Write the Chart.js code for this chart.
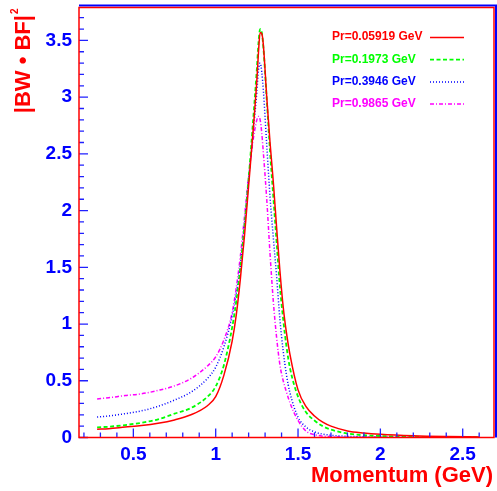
<!DOCTYPE html>
<html>
<head>
<meta charset="utf-8">
<script src="https://cdn.jsdelivr.net/npm/chart.js@4/dist/chart.umd.min.js"></script>
<style>
  html, body { margin: 0; padding: 0; background: #fff; }
</style>
</head>
<body>
<canvas id="bw" width="497" height="491"></canvas>
<script>
// momentum grid (GeV), shared by all four curves
const momentum = [0.28, 0.35, 0.45, 0.55, 0.65, 0.75, 0.85, 0.95, 1.0, 1.05, 1.1, 1.125, 1.15, 1.175, 1.2, 1.225, 1.25, 1.26, 1.27, 1.28,
                  1.29, 1.31, 1.33, 1.35, 1.37, 1.39, 1.41, 1.43, 1.45, 1.5, 1.55, 1.6, 1.65, 1.7, 1.8, 1.9, 2.0, 2.2, 2.4, 2.6];

// |BW * BF|^2 for each Pr value
const pr05919 = [0.073, 0.078, 0.092, 0.105, 0.125, 0.155, 0.20, 0.28, 0.36, 0.55, 0.85, 1.08, 1.40, 1.78, 2.22, 2.66, 3.15, 3.40, 3.57, 3.56,
                 3.45, 3.0, 2.6, 2.25, 1.85, 1.47, 1.15, 0.92, 0.74, 0.42, 0.27, 0.19, 0.135, 0.10, 0.058, 0.040, 0.029, 0.016, 0.009, 0.005];
const pr1973 = [0.09, 0.095, 0.11, 0.13, 0.16, 0.21, 0.26, 0.36, 0.45, 0.64, 0.97, 1.2, 1.5, 1.87, 2.28, 2.75, 3.25, 3.48, 3.6, 3.57,
                3.43, 2.98, 2.52, 2.12, 1.72, 1.33, 1.04, 0.80, 0.62, 0.36, 0.22, 0.15, 0.10, 0.07, 0.035, 0.02, 0.013, 0.006, 0.003, 0.002];
const pr3946 = [0.18, 0.19, 0.21, 0.235, 0.275, 0.33, 0.40, 0.52, 0.62, 0.80, 1.07, 1.27, 1.52, 1.88, 2.28, 2.65, 3.05, 3.24, 3.30, 3.22,
                3.05, 2.58, 2.12, 1.76, 1.42, 1.04, 0.76, 0.55, 0.40, 0.18, 0.09, 0.05, 0.03, 0.02, 0.01, 0.006, 0.004, 0.002, 0.001, 0.001];
const pr9865 = [0.34, 0.35, 0.37, 0.385, 0.415, 0.455, 0.52, 0.63, 0.71, 0.86, 1.1, 1.32, 1.6, 1.95, 2.3, 2.6, 2.8, 2.83, 2.80, 2.68,
                2.5, 2.1, 1.62, 1.2, 0.88, 0.64, 0.50, 0.40, 0.31, 0.15, 0.055, 0.025, 0.012, 0.008, 0.003, 0.002, 0.001, 0, 0, 0];

const seriesLabels = ["Pr=0.05919 GeV", "Pr=0.1973 GeV", "Pr=0.3946 GeV", "Pr=0.9865 GeV"];

// axis ticks
const xTicks = [0.5, 1, 1.5, 2, 2.5];
const yTicks = [0, 0.5, 1, 1.5, 2, 2.5, 3, 3.5];

const FONT = "'Liberation Sans', Arial, Helvetica, sans-serif";
Chart.defaults.font.family = FONT;

function makeSet(label, vals, color, dash, width){
    return {
        label: label,
        data: momentum.map((m, i) => ({x: m, y: vals[i]})),
        borderColor: color,
        backgroundColor: color,
        borderWidth: width,
        borderDash: dash,
        pointRadius: 0,
        fill: false,
        cubicInterpolationMode: "monotone",
    };
}

//Draws the ROOT-style frame, inward ticks and minor ticks
const framePlugin = {
    id: "frame",
    afterDraw(chart){
        let ctx = chart.ctx,
            a = chart.chartArea,
            xs = chart.scales.x,
            ys = chart.scales.y;
        ctx.save();
        ctx.setLineDash([]);
        ctx.lineCap = "butt";
        ctx.globalAlpha = 1;

        // ticks, every 0.1 with longer ones on the labelled values
        ctx.strokeStyle = "#2020ff";
        ctx.lineWidth = 1.3;
        ctx.beginPath();
        for(let i = 0; i <= 40; i++){
            let v = i / 10;
            if(v < ys.min || v > ys.max) continue;
            let py = ys.getPixelForValue(v);
            let len = (i % 5 === 0) ? 8 : 4;
            ctx.moveTo(a.left, py);
            ctx.lineTo(a.left + 1 + len, py);
        }
        for(let i = 0; i <= 30; i++){
            let v = i / 10;
            if(v < xs.min || v > xs.max) continue;
            let px = xs.getPixelForValue(v);
            let len = (i % 5 === 0) ? 8 : 4;
            ctx.moveTo(px, a.bottom);
            ctx.lineTo(px, a.bottom - 1 - len);
        }
        ctx.stroke();

        // frame: red left/bottom, blue+red top/right
        ctx.lineWidth = 2;
        ctx.strokeStyle = "#0000ff";
        ctx.beginPath();
        ctx.moveTo(a.left, a.top - 2);
        ctx.lineTo(a.right + 2, a.top - 2);
        ctx.lineTo(a.right + 2, a.bottom);
        ctx.stroke();
        ctx.lineWidth = 1.5;
        ctx.strokeStyle = "#ff0000";
        ctx.beginPath();
        ctx.moveTo(a.left, a.top);
        ctx.lineTo(a.right, a.top);
        ctx.lineTo(a.right, a.bottom);
        ctx.lineTo(a.left, a.bottom);
        ctx.closePath();
        ctx.stroke();
        ctx.restore();
    }
};

//Legend in the upper right corner and the axis titles
const textPlugin = {
    id: "texts",
    afterDraw(chart){
        let ctx = chart.ctx,
            a = chart.chartArea;
        ctx.save();

        ctx.font = "bold 12px " + FONT;
        ctx.textAlign = "left";
        ctx.textBaseline = "middle";
        chart.data.datasets.forEach((ds, i) => {
            let y = 37 + i * 22.2;
            ctx.fillStyle = ds.borderColor;
            ctx.fillText(ds.label, 332, y);
            ctx.strokeStyle = ds.borderColor;
            ctx.lineWidth = ds.borderWidth;
            ctx.setLineDash(ds.borderDash);
            ctx.beginPath();
            ctx.moveTo(430, y + 0.5);
            ctx.lineTo(464, y + 0.5);
            ctx.stroke();
        });
        ctx.setLineDash([]);

        // x title
        ctx.fillStyle = "#ff0000";
        ctx.font = "bold 22px " + FONT;
        ctx.textAlign = "right";
        ctx.textBaseline = "alphabetic";
        ctx.fillText("Momentum (GeV)", a.right - 1, 482);

        // y title, rotated, ending at the top of the frame
        ctx.translate(30, a.top + 1);
        ctx.rotate(-Math.PI / 2);
        ctx.font = "bold 10px " + FONT;
        ctx.textAlign = "right";
        ctx.fillText("2", 0, -12);
        let w2 = ctx.measureText("2").width + 1;
        ctx.font = "bold 22px " + FONT;
        ctx.fillText("|BW \u2022 BF|", -w2, 0);
        ctx.restore();
    }
};

new Chart("bw", {
    type: "line",
    data: {
        datasets: [
            makeSet(seriesLabels[0], pr05919, "#ff0000", [], 1.5),
            makeSet(seriesLabels[1], pr1973, "#00ff00", [4, 2.5], 1.8),
            makeSet(seriesLabels[2], pr3946, "#0000ff", [1, 2], 1.5),
            makeSet(seriesLabels[3], pr9865, "#ff00ff", [4, 2, 1, 2], 1.5),
        ],
    },
    options: {
        responsive: false,
        animation: false,
        layout: { padding: { left: 0, right: 3, top: 7.5, bottom: 0 } },
        plugins: {
            legend: { display: false },
            tooltip: { enabled: false },
        },
        scales: {
            x: {
                type: "linear",
                min: 0.17,
                max: 2.69,
                afterBuildTicks: s => { s.ticks = xTicks.map(v => ({value: v})); },
                afterFit: s => { s.height = 53.5; s.paddingLeft = 0; s.paddingRight = 0; },
                grid: { display: false, drawTicks: false },
                border: { display: false },
                ticks: {
                    color: "#0000ff",
                    font: { size: 19, weight: "bold" },
                    padding: 6,
                    autoSkip: false,
                    maxRotation: 0,
                    callback: v => String(v),
                },
            },
            y: {
                type: "linear",
                min: 0,
                max: 3.79,
                afterBuildTicks: s => { s.ticks = yTicks.map(v => ({value: v})); },
                afterFit: s => { s.width = 79; s.paddingTop = 0; s.paddingBottom = 0; },
                grid: { display: false, drawTicks: false },
                border: { display: false },
                ticks: {
                    color: "#0000ff",
                    font: { size: 19, weight: "bold" },
                    padding: 7,
                    autoSkip: false,
                    callback: v => String(v),
                },
            },
        },
    },
    plugins: [framePlugin, textPlugin],
});
</script>
</body>
</html>
